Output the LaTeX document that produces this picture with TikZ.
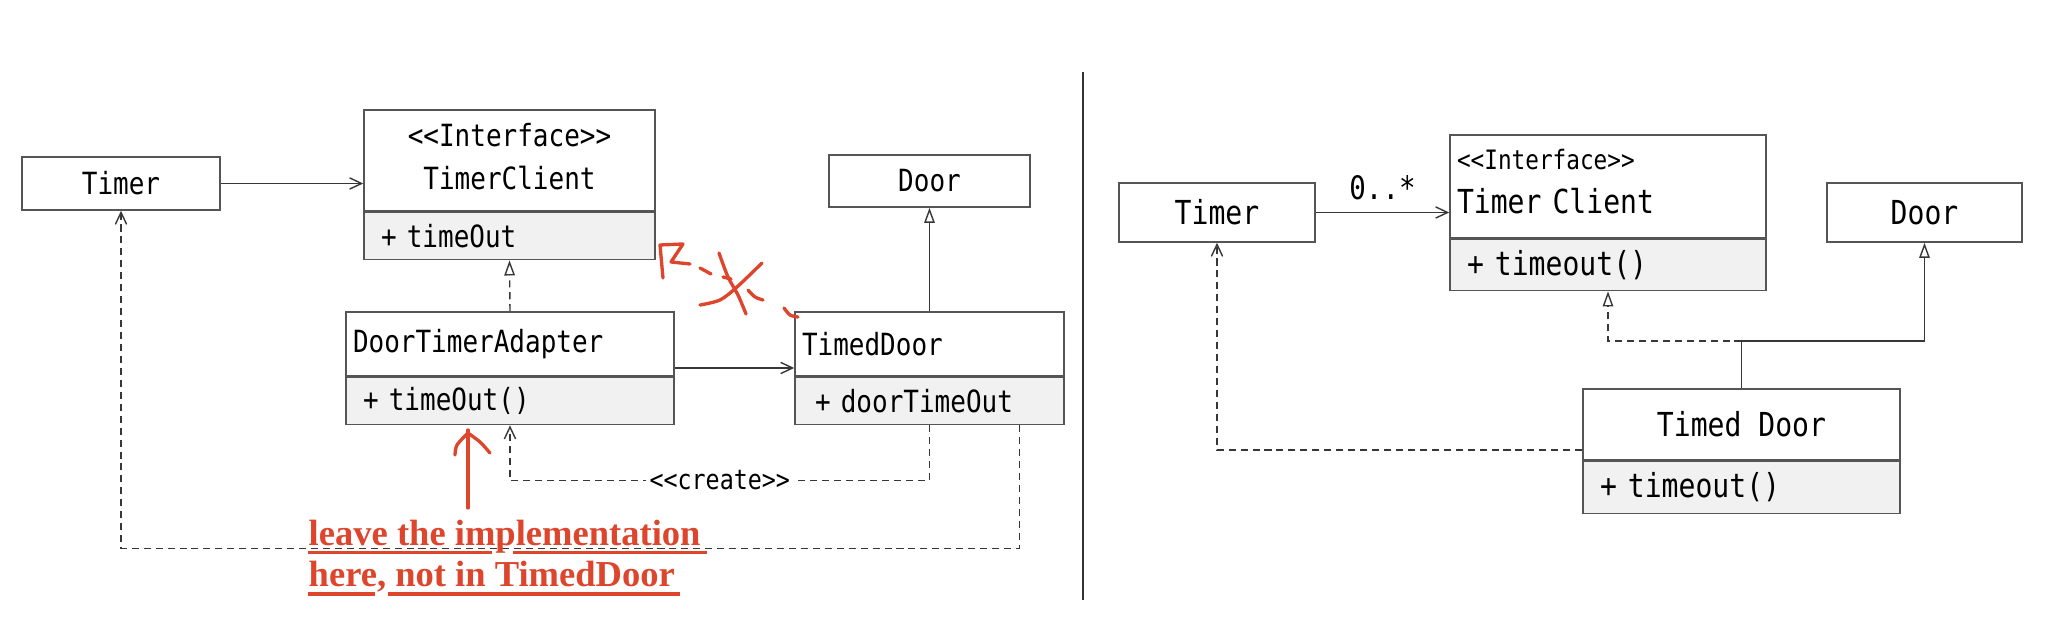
\documentclass[tikz,border=0pt]{standalone}
\usepackage{fontspec}
\setmonofont{DejaVu Sans Mono}[FakeStretch=0.85]
\newfontfamily\notefont{Liberation Serif}
\usetikzlibrary{arrows.meta,positioning}
\definecolor{linegray}{RGB}{85,85,85}
\definecolor{wiregray}{RGB}{55,55,55}
\definecolor{bodygray}{RGB}{241,241,241}
\definecolor{penred}{RGB}{221,70,45}
\newcommand\umlL{\ttfamily\fontsize{8.7}{12.2}\selectfont}
\newcommand\umlR{\ttfamily\fontsize{9.4}{12.5}\selectfont}
\tikzset{
  cls/.style={draw=linegray, line width=0.45pt, fill=white, inner ysep=0pt},
  clsbody/.style={cls, fill=bodygray, align=left},
  assoc/.style={draw=wiregray, line width=0.4pt, -{Straight Barb[length=3.4pt,width=3.2pt]}},
  depend/.style={assoc, dash pattern=on 2pt off 1.4pt},
  inherit/.style={draw=wiregray, line width=0.4pt, -{Triangle[length=4.3pt,width=3pt,fill=white]}},
  realize/.style={inherit, dash pattern=on 2pt off 1.4pt},
  pen/.style={draw=penred, line width=0.95pt, line cap=round, line join=round},
}

\begin{document}
\begin{tikzpicture}[x=1cm,y=-1cm]
  \useasboundingbox (0,0) rectangle (20.54,6.36);

  % left: with adapter
  \node[cls, font=\umlL, minimum width=1.98cm, minimum height=0.53cm] (timerL) at (1.21,1.835) {Timer};
  \node[cls, font=\umlL, minimum width=2.91cm, minimum height=1.01cm, align=center] (clientLH) at (5.095,1.605) {<<Interface>>\\TimerClient\rule[-2.3pt]{0pt}{0pt}};
  \node[clsbody, font=\umlL, text width=2.57cm, inner xsep=0.17cm, minimum height=0.47cm, below=0pt of clientLH] (clientLB) {+ timeOut};
  \node[cls, font=\umlL, minimum width=2.01cm, minimum height=0.52cm] (doorL) at (9.295,1.81) {Door};
  \node[cls, font=\umlL, align=left, text width=3.14cm, inner xsep=0.07cm, minimum height=0.64cm] (adapterH) at (5.10,3.44) {DoorTimerAdapter};
  \node[clsbody, font=\umlL, text width=2.94cm, inner xsep=0.17cm, minimum height=0.47cm, below=0pt of adapterH] (adapterB) {+ timeOut()};
  \node[cls, font=\umlL, align=left, text width=2.55cm, inner xsep=0.07cm, minimum height=0.64cm] (timedLH) at (9.295,3.44) {TimedDoor};
  \node[clsbody, font=\umlL, text width=2.29cm, inner xsep=0.2cm, minimum height=0.47cm, below=0pt of timedLH] (timedLB) {+ doorTimeOut};

  \draw[assoc] (timerL.east) -- (clientLH.west |- timerL.east);
  \draw[realize] (adapterH.north) -- (clientLB.south);
  \draw[inherit] (timedLH.north) -- (doorL.south);
  \draw[assoc] ([yshift=-0.24cm]adapterH.east) -- ([yshift=-0.24cm]timedLH.west);
  \draw[depend] (timedLB.south) -- ++(0,0.55) -| node[pos=0.25, fill=white, inner sep=1pt, font=\ttfamily\fontsize{7.8}{9}\selectfont] (create) {<<create>>} (adapterB.south);
  \draw[depend] ([xshift=0.9cm]timedLB.south) -- ++(0,1.23) -| (timerL.south);

  % hand-written note
  \node[anchor=base west, inner sep=0pt, text=penred, font=\notefont\bfseries\fontsize{10.4}{12}\selectfont] (note1) at (3.08,5.46) {leave the implementation};
  \node[anchor=base west, inner sep=0pt, text=penred, font=\notefont\bfseries\fontsize{10.4}{12}\selectfont] (note2) at (3.08,5.87) {here, not in TimedDoor};
  \draw[penred, line width=0.9pt] (3.08,5.525) -- (4.92,5.525) (5.13,5.525) -- (7.07,5.525);
  \draw[penred, line width=0.9pt] (3.08,5.94) -- (3.75,5.94) (3.88,5.94) -- (6.80,5.94);
  \draw[pen] (4.68,5.08) -- (4.68,4.30);
  \draw[pen] plot[smooth] coordinates {(4.55,4.55) (4.57,4.45) (4.68,4.33)};
  \draw[pen] plot[smooth] coordinates {(4.68,4.33) (4.80,4.42) (4.90,4.53)};
  % crossed-out link
  \draw[pen] (6.63,2.78) -- (6.60,2.45) -- (6.83,2.44) -- (6.71,2.62) -- (6.90,2.64);
  \draw[pen] (7.00,2.68) -- (7.11,2.74);
  \draw[pen] (7.23,2.77) -- (7.31,2.79);
  \draw[pen] plot[smooth] coordinates {(7.48,2.90) (7.55,2.97) (7.63,3.00)};
  \draw[pen] plot[smooth] coordinates {(7.84,3.08) (7.90,3.15) (7.98,3.17)};
  \draw[pen] plot[smooth] coordinates {(7.19,2.53) (7.28,2.77) (7.38,2.95) (7.46,3.14)};
  \draw[pen] plot[smooth] coordinates {(7.00,3.05) (7.20,3.00) (7.37,2.87) (7.62,2.63)};

  % separator
  \draw[black!80, line width=0.7pt] (10.83,0.72) -- (10.83,6.00);

  % right: direct
  \node[cls, font=\umlR, minimum width=1.96cm, minimum height=0.59cm] (timerR) at (12.17,2.125) {Timer};
  \node[cls, font=\umlR, align=left, text width=3.02cm, inner xsep=0.07cm, minimum height=1.03cm] (clientRH) at (16.08,1.865) {{\fontsize{7.6}{9}\selectfont <<Interface>>}\\Timer Client\rule[-2.8pt]{0pt}{0pt}};
  \node[clsbody, font=\umlR, text width=2.82cm, inner xsep=0.17cm, minimum height=0.51cm, below=0pt of clientRH] (clientRB) {+ timeout()};
  \node[cls, font=\umlR, minimum width=1.95cm, minimum height=0.59cm] (doorR) at (19.245,2.125) {Door};
  \node[cls, font=\umlR, minimum width=3.17cm, minimum height=0.71cm] (timedRH) at (17.415,4.245) {Timed Door};
  \node[clsbody, font=\umlR, text width=2.83cm, inner xsep=0.17cm, minimum height=0.52cm, below=0pt of timedRH] (timedRB) {+ timeout()};

  \draw[assoc] (timerR.east) -- node[above=3.4pt, inner sep=0pt, font=\ttfamily\fontsize{9.2}{10}\selectfont] (mult) {0..*} (clientRH.west |- timerR.east);
  \coordinate (fork) at ([yshift=0.47cm]timedRH.north);
  \draw[draw=wiregray, line width=0.4pt] (timedRH.north) -- (fork);
  \draw[inherit] (fork) -| (doorR.south);
  \draw[realize] (fork) -| (clientRB.south);
  \draw[depend] ([yshift=-0.255cm]timedRH.west) -| (timerR.south);
\end{tikzpicture}
\end{document}
